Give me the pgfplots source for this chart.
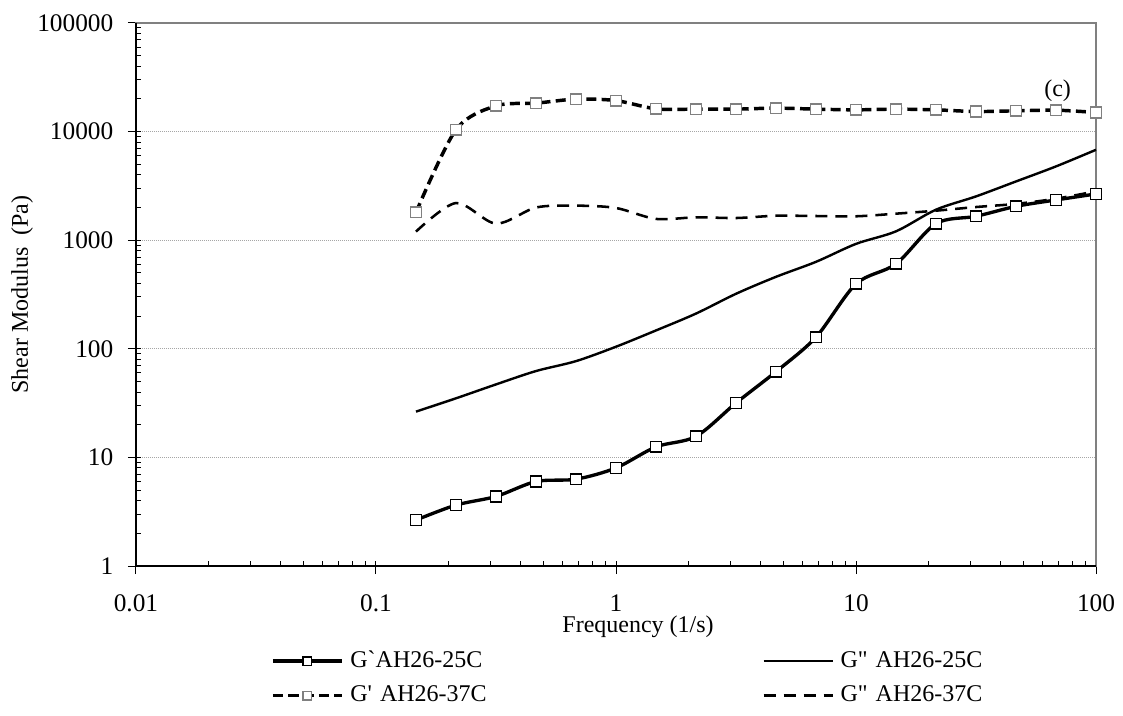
\documentclass[border=0pt]{standalone}
\usepackage{fontspec}
\setmainfont{Liberation Serif}[Ligatures=TeXOff]
\usepackage{pgfplots}
\usepackage{pgfplotstable}
\pgfplotsset{compat=1.18}

% frequency (1/s), G' 25C, G" 25C, G' 37C, G" 37C  (Pa)
\pgfplotstableread{
f      gp25   gpp25  gp37   gpp37
0.1468 2.65   26.4   1805   1200
0.2154 3.64   35     10400  2200
0.3162 4.37   47     17260  1420
0.4642 6.0    62.4   18280  2000
0.6813 6.3    77     19900  2080
1      8.0    104.5  19300  1980
1.468  12.5   147.6  16200  1570
2.154  15.6   211    16100  1625
3.162  31.7   321    16100  1600
4.642  61.6   460    16450  1680
6.813  128    632    16100  1670
10     396    925    15860  1660
14.68  605    1207   16100  1755
21.54  1421   1910   15860  1870
31.62  1660   2530   15300  2020
46.42  2050   3475   15530  2160
68.13  2346   4780   15750  2410
100    2666   6800   15000  2820
}\moduli

\definecolor{mkgray}{RGB}{128,128,128}

\begin{document}
\begin{tikzpicture}
\begin{loglogaxis}[
  name=ax,
  scale only axis,
  width=720pt, height=407.25pt,
  xmin=0.01, xmax=100, ymin=1, ymax=100000,
  xtick={0.01,0.1,1,10,100},
  xticklabels={0.01,0.1,1,10,100},
  ytick={1,10,100,1000,10000,100000},
  yticklabels={1,10,100,1000,10000,100000},
  tick pos=left,
  tick align=inside,
  major tick length=9pt,
  minor tick length=3.75pt,
  major x tick style={yshift=-6pt},
  major y tick style={xshift=-6pt},
  tick style={black, line width=0.75pt},
  axis line style={mkgray, line width=1.1pt},
  ymajorgrids,
  grid style={gray!70, line width=0.6pt, dash pattern=on 0.75pt off 0.75pt},
  tick label style={font=\fontsize{19}{22}\selectfont},
  xticklabel style={yshift=-18pt},
  yticklabel style={xshift=-13.5pt},
  label style={font=\fontsize{18}{21}\selectfont},
  xlabel={Frequency (1/s)},
  xlabel style={at={(axis description cs:0.523,-0.112)}, anchor=center},
  ylabel={Shear Modulus\ \ (Pa)},
  ylabel style={at={(axis description cs:-0.11875,0.5)}, anchor=center},
  clip=false,
  legend columns=2,
  legend style={at={(axis description cs:0.1406,-0.207)}, anchor=west,
    draw=none, fill=none, inner sep=0pt, column sep=5pt, row sep=9pt,
    font=\fontsize{18}{21}\selectfont,
    nodes={inner sep=0pt, text width=304pt, text height=13pt, text depth=4pt}},
  legend image code/.code={\draw[mark repeat=2, mark phase=2, #1, mark size=3.2pt]
    plot coordinates {(0pt,0pt) (25.875pt,0pt) (51.75pt,0pt)};},
  every axis plot/.append style={smooth, tension=0.5},
]
\addplot[black, line width=2.5pt, mark=square*,
  mark options={solid, fill=white, draw=black, line width=1.1pt}, mark size=4pt]
  table[x=f, y=gp25] {\moduli};
\addlegendentry{G`AH26-25C}
\addplot[black, line width=1.8pt, no marks]
  table[x=f, y=gpp25] {\moduli};
\addlegendentry{G" AH26-25C}
\addplot[black, line width=2.6pt, dash pattern=on 7.5pt off 4pt, mark=square*,
  mark options={solid, fill=white, draw=mkgray, line width=1.1pt}, mark size=4pt]
  table[x=f, y=gp37] {\moduli};
\addlegendentry{G' AH26-37C}
\addplot[black, line width=1.9pt, dash pattern=on 9pt off 6pt, no marks]
  table[x=f, y=gpp37] {\moduli};
\addlegendentry{G" AH26-37C}
\draw[black, line width=1.1pt] (rel axis cs:0,1) -- (rel axis cs:0,0) -- (rel axis cs:1,0);
\node[font=\fontsize{18}{21}\selectfont] at (rel axis cs:0.96,0.875) {(c)};
\end{loglogaxis}
\pgfresetboundingbox
\path ([xshift=-102pt,yshift=-111.75pt]ax.south west) rectangle ([xshift=20.25pt,yshift=17.25pt]ax.north east);
\end{tikzpicture}
\end{document}
